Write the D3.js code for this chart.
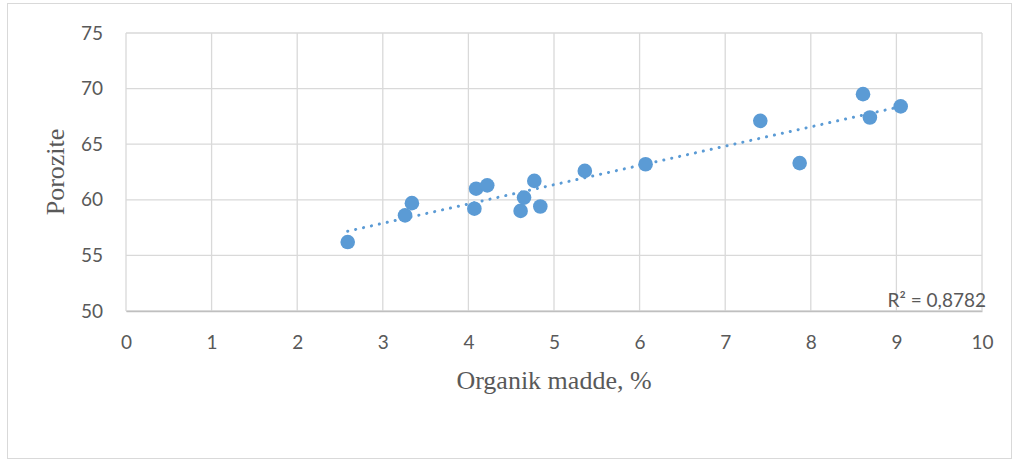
<!DOCTYPE html>
<html>
<head>
<meta charset="utf-8">
<script src="https://cdn.jsdelivr.net/npm/d3@7"></script>
<style>
  body { margin: 0; background: #fff; }
  svg { display: block; }
</style>
</head>
<body>
<div id="app"></div>
<script>
// organik madde (%) and porozite values
const organik = [2.59, 3.26, 3.34, 4.07, 4.09, 4.22, 4.61, 4.65, 4.77, 4.84, 5.36, 6.07, 7.41, 7.87, 8.61, 8.69, 9.05];
const porozite = [56.2, 58.6, 59.7, 59.2, 61.0, 61.3, 59.0, 60.2, 61.7, 59.4, 62.6, 63.2, 67.1, 63.3, 69.5, 67.4, 68.4];
const xTicks = [0, 1, 2, 3, 4, 5, 6, 7, 8, 9, 10];
const yTicks = [50, 55, 60, 65, 70, 75];
const r2Label = "R² = 0,8782";

const width = 1017, height = 462;
const margin = { left: 126, right: 35, top: 33, bottom: 151 };
const color = "#5b9bd5";
const tickFont = "Lato, 'Open Sans', sans-serif";
const titleFont = "'Liberation Serif', 'Times New Roman', serif";

const svg = d3.select("#app").append("svg")
  .attr("width", width)
  .attr("height", height);

// chart border
svg.append("rect")
  .attr("x", 7.5).attr("y", 3.5)
  .attr("width", 1004).attr("height", 455)
  .attr("fill", "#fff")
  .attr("stroke", "#d9d9d9");

const x = d3.scaleLinear().domain([0, 10]).range([margin.left, width - margin.right]);
const y = d3.scaleLinear().domain([50, 75]).range([height - margin.bottom, margin.top]);

// grid
svg.append("g")
  .selectAll("line")
  .data(xTicks)
  .join("line")
  .attr("x1", d => x(d)).attr("x2", d => x(d))
  .attr("y1", y(50)).attr("y2", y(75))
  .attr("stroke", "#d9d9d9")
  .attr("stroke-width", 1.3);

svg.append("g")
  .selectAll("line")
  .data(yTicks)
  .join("line")
  .attr("x1", x(0)).attr("x2", x(10))
  .attr("y1", d => y(d)).attr("y2", d => y(d))
  .attr("stroke", "#d9d9d9")
  .attr("stroke-width", 1.3);

// axes
const xAxis = d3.axisBottom(x).tickValues(xTicks).tickSize(0).tickPadding(25).tickFormat(d3.format("d"));
const yAxis = d3.axisLeft(y).tickValues(yTicks).tickSize(0).tickPadding(23).tickFormat(d3.format("d"));

const gx = svg.append("g")
  .attr("transform", `translate(0, ${y(50)})`)
  .call(xAxis);
const gy = svg.append("g")
  .attr("transform", `translate(${x(0)}, 0)`)
  .call(yAxis);

[gx, gy].forEach(g => {
  g.select(".domain").attr("stroke", "#bfbfbf").attr("stroke-width", 1.3);
  g.selectAll("text")
    .attr("fill", "#595959")
    .style("font-family", tickFont)
    .style("font-size", "19px");
});
gy.select(".domain").remove();

// linear trendline
const mx = d3.mean(organik), my = d3.mean(porozite);
const slope = d3.sum(organik, (v, i) => (v - mx) * (porozite[i] - my)) / d3.sum(organik, v => (v - mx) ** 2);
const intercept = my - slope * mx;
const xr = d3.extent(organik);

svg.append("line")
  .attr("x1", x(xr[0])).attr("y1", y(intercept + slope * xr[0]))
  .attr("x2", x(xr[1])).attr("y2", y(intercept + slope * xr[1]))
  .attr("stroke", color)
  .attr("stroke-width", 3)
  .attr("stroke-linecap", "round")
  .attr("stroke-dasharray", "0.1 8");

// points
svg.append("g")
  .selectAll("circle")
  .data(organik)
  .join("circle")
  .attr("cx", d => x(d))
  .attr("cy", (d, i) => y(porozite[i]))
  .attr("r", 7.3)
  .attr("fill", color);

// R² label
svg.append("text")
  .attr("x", 986).attr("y", 307)
  .attr("text-anchor", "end")
  .attr("fill", "#595959")
  .style("font-family", tickFont)
  .style("font-size", "19px")
  .text(r2Label);

// axis titles
svg.append("text")
  .attr("x", (x(0) + x(10)) / 2)
  .attr("y", 389)
  .attr("text-anchor", "middle")
  .attr("fill", "#595959")
  .style("font-family", titleFont)
  .style("font-size", "26px")
  .text("Organik madde, %");

svg.append("text")
  .attr("transform", `translate(64, ${(y(50) + y(75)) / 2}) rotate(-90)`)
  .attr("text-anchor", "middle")
  .attr("fill", "#595959")
  .style("font-family", titleFont)
  .style("font-size", "26px")
  .text("Porozite");
</script>
</body>
</html>
